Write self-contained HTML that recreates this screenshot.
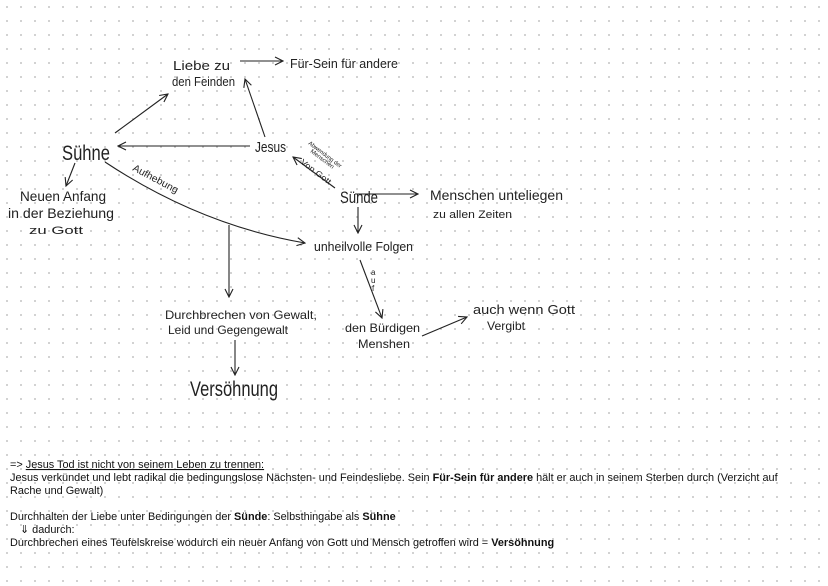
<!DOCTYPE html>
<html><head><meta charset="utf-8"><style>
html,body{margin:0;padding:0;background:#fff}
svg{display:block}
.h{font-family:"Liberation Sans",sans-serif;fill:#222;font-size:13px}
.b{font-family:"Liberation Sans",sans-serif;fill:#111;font-size:10.9px}
line,path{stroke:#222;stroke-width:1.1;fill:none}
</style></head><body>
<svg width="828" height="586" viewBox="0 0 828 586" xmlns="http://www.w3.org/2000/svg">
<defs>
<pattern id="d" width="14" height="14" patternUnits="userSpaceOnUse"><circle cx="7" cy="7" r="1" fill="#c4c4c4"/></pattern>
<marker id="a" markerWidth="10" markerHeight="10" refX="9" refY="5" orient="auto" markerUnits="userSpaceOnUse"><path d="M1,1 L9,5 L1,9" style="stroke:#222;fill:none;stroke-width:1.1"/></marker>
</defs>
<rect width="828" height="586" fill="url(#d)"/>

<text class="h" x="173" y="70" textLength="57" lengthAdjust="spacingAndGlyphs">Liebe zu</text>
<text class="h" x="172" y="86" textLength="63" lengthAdjust="spacingAndGlyphs">den Feinden</text>
<line x1="240" y1="61" x2="283" y2="61" marker-end="url(#a)"/>
<text class="h" x="290" y="68" textLength="108" lengthAdjust="spacingAndGlyphs">Für-Sein für andere</text>

<text class="h" x="62" y="160" style="font-size:21px" textLength="48" lengthAdjust="spacingAndGlyphs">Sühne</text>
<line x1="115" y1="133" x2="168" y2="94" marker-end="url(#a)"/>
<text class="h" x="255" y="152" style="font-size:15px" textLength="31" lengthAdjust="spacingAndGlyphs">Jesus</text>
<line x1="250" y1="146" x2="118" y2="146" marker-end="url(#a)"/>
<line x1="265" y1="137" x2="245" y2="79" marker-end="url(#a)"/>
<line x1="75" y1="163" x2="66" y2="186" marker-end="url(#a)"/>
<text class="h" x="20" y="201" style="font-size:14px" textLength="86" lengthAdjust="spacingAndGlyphs">Neuen  Anfang</text>
<text class="h" x="8" y="218" style="font-size:14px" textLength="106" lengthAdjust="spacingAndGlyphs">in der Beziehung</text>
<text class="h" x="29" y="234" style="font-size:11px" textLength="54" lengthAdjust="spacingAndGlyphs">zu  Gott</text>

<path d="M105,162 Q200,225 305,243" marker-end="url(#a)"/>
<text class="h" x="132" y="170" style="font-size:10px" transform="rotate(28 132 170)" textLength="50" lengthAdjust="spacingAndGlyphs">Aufhebung</text>
<line x1="229" y1="225" x2="229" y2="297" marker-end="url(#a)"/>

<text class="h" x="340" y="203" style="font-size:17px" textLength="38" lengthAdjust="spacingAndGlyphs">Sünde</text>
<line x1="335" y1="188" x2="293" y2="157" marker-end="url(#a)"/>
<text class="h" x="308" y="144" style="font-size:6px" transform="rotate(37 308 144)" textLength="40" lengthAdjust="spacingAndGlyphs">Abwendung der</text>
<text class="h" x="310" y="152" style="font-size:6px" transform="rotate(37 310 152)" textLength="28" lengthAdjust="spacingAndGlyphs">Menschen</text>
<text class="h" x="300" y="163" style="font-size:8px" transform="rotate(37 300 163)" textLength="36" lengthAdjust="spacingAndGlyphs">Von Gott</text>

<line x1="355" y1="194" x2="418" y2="194" marker-end="url(#a)"/>
<text class="h" x="430" y="200" style="font-size:14px" textLength="133" lengthAdjust="spacingAndGlyphs">Menschen  unteliegen</text>
<text class="h" x="433" y="218" style="font-size:11px" textLength="79" lengthAdjust="spacingAndGlyphs">zu allen Zeiten</text>
<line x1="358" y1="207" x2="358" y2="233" marker-end="url(#a)"/>
<text class="h" x="314" y="251" style="font-size:13px" textLength="99" lengthAdjust="spacingAndGlyphs">unheilvolle Folgen</text>
<line x1="360" y1="260" x2="382" y2="318" marker-end="url(#a)"/>
<text class="h" x="371" y="275" style="font-size:8px">a</text>
<text class="h" x="371" y="283" style="font-size:8px">u</text>
<text class="h" x="372" y="291" style="font-size:8px">f</text>

<text class="h" x="165" y="319" style="font-size:12px" textLength="152" lengthAdjust="spacingAndGlyphs">Durchbrechen von Gewalt,</text>
<text class="h" x="168" y="334" style="font-size:12px" textLength="120" lengthAdjust="spacingAndGlyphs">Leid und Gegengewalt</text>
<line x1="235" y1="340" x2="235" y2="375" marker-end="url(#a)"/>
<text class="h" x="190" y="396" style="font-size:21px" textLength="88" lengthAdjust="spacingAndGlyphs">Versöhnung</text>

<text class="h" x="345" y="332" style="font-size:12px" textLength="75" lengthAdjust="spacingAndGlyphs">den Bürdigen</text>
<text class="h" x="358" y="348" style="font-size:12px" textLength="52" lengthAdjust="spacingAndGlyphs">Menshen</text>
<line x1="422" y1="336" x2="467" y2="317" marker-end="url(#a)"/>
<text class="h" x="473" y="314" style="font-size:13px" textLength="102" lengthAdjust="spacingAndGlyphs">auch wenn Gott</text>
<text class="h" x="487" y="330" style="font-size:12px" textLength="38" lengthAdjust="spacingAndGlyphs">Vergibt</text>

<text class="b" x="10" y="468">=&gt; <tspan text-decoration="underline">Jesus Tod ist nicht von seinem Leben zu trennen:</tspan></text>
<text class="b" x="10" y="481">Jesus verkündet und lebt radikal die bedingungslose Nächsten- und Feindesliebe. Sein <tspan font-weight="bold">Für-Sein für andere</tspan> hält er auch in seinem Sterben durch (Verzicht auf</text>
<text class="b" x="10" y="494">Rache und Gewalt)</text>
<text class="b" x="10" y="520">Durchhalten der Liebe unter Bedingungen der <tspan font-weight="bold">Sünde</tspan>: Selbsthingabe als <tspan font-weight="bold">Sühne</tspan></text>
<text class="b" x="20" y="533">⇓  dadurch:</text>
<text class="b" x="10" y="546">Durchbrechen eines Teufelskreise wodurch ein neuer Anfang von Gott und Mensch getroffen wird = <tspan font-weight="bold">Versöhnung</tspan></text>
</svg>
</body></html>
